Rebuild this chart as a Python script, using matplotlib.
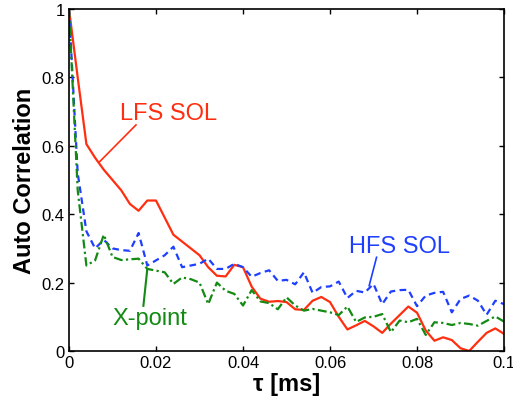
import numpy as np
import matplotlib
matplotlib.use('Agg')
import matplotlib.pyplot as plt

plt.rcParams['font.family'] = ['Liberation Sans', 'DejaVu Sans']

# lag axis, 0.002 ms steps
tau = np.arange(51) * 0.002

lfs = [1.0, 0.80, 0.605, 0.565, 0.53, 0.50, 0.47, 0.43, 0.41, 0.44,
       0.44, 0.39, 0.34, 0.32, 0.30, 0.28, 0.245, 0.22, 0.218, 0.252,
       0.245, 0.188, 0.153, 0.144, 0.146, 0.143, 0.122, 0.12, 0.147, 0.158,
       0.143, 0.10, 0.063, 0.075, 0.088, 0.072, 0.053, 0.08, 0.105, 0.13,
       0.112, 0.06, 0.03, 0.04, 0.032, 0.008, 0.0, 0.027, 0.053, 0.066,
       0.05]

hfs = [1.0, 0.52, 0.35, 0.30, 0.325, 0.30, 0.295, 0.293, 0.345, 0.25,
       0.265, 0.28, 0.305, 0.245, 0.25, 0.255, 0.27, 0.24, 0.24, 0.255,
       0.245, 0.217, 0.228, 0.236, 0.205, 0.208, 0.195, 0.23, 0.17, 0.187,
       0.189, 0.203, 0.155, 0.176, 0.171, 0.196, 0.137, 0.174, 0.178, 0.179,
       0.131, 0.162, 0.17, 0.173, 0.113, 0.152, 0.162, 0.147, 0.106, 0.147,
       0.137]

xpt = [1.0, 0.47, 0.25, 0.265, 0.34, 0.275, 0.266, 0.268, 0.27, 0.24,
       0.235, 0.23, 0.196, 0.215, 0.21, 0.20, 0.137, 0.20, 0.176, 0.167,
       0.133, 0.178, 0.145, 0.14, 0.122, 0.157, 0.133, 0.118, 0.123, 0.118,
       0.113, 0.105, 0.13, 0.085, 0.098, 0.10, 0.108, 0.055, 0.089, 0.084,
       0.094, 0.047, 0.084, 0.082, 0.076, 0.082, 0.079, 0.074, 0.088, 0.101,
       0.086]

c_red = '#ff2e10'
c_blue = '#1f3fff'
c_green = '#138a13'

fig = plt.figure(figsize=(5.13, 4.02), dpi=100)
ax = fig.add_axes([0.1345, 0.1244, 0.848, 0.8507])

ax.plot(tau, lfs, color=c_red, lw=1.6, ls='-')
ax.plot(tau, hfs, color=c_blue, lw=1.6, ls=(0, (3, 2)))
ax.plot(tau, xpt, color=c_green, lw=1.6, ls=(0, (4, 1.5, 1, 1.5)))

ax.set_xlim(0, 0.1)
ax.set_ylim(0, 1)
ax.set_xticks([0, 0.02, 0.04, 0.06, 0.08, 0.1])
ax.set_xticklabels(['0', '0.02', '0.04', '0.06', '0.08', '0.1'])
ax.set_yticks([0, 0.2, 0.4, 0.6, 0.8, 1])
ax.set_yticklabels(['0', '0.2', '0.4', '0.6', '0.8', '1'])
ax.tick_params(direction='in', length=3.5, width=1, top=True, right=True,
               labelsize=12, pad=3)
for s in ax.spines.values():
    s.set_linewidth(1.2)

ax.set_xlabel('τ [ms]', fontsize=17, fontweight='bold', labelpad=1)
ax.set_ylabel('Auto Correlation', fontsize=17, fontweight='bold', labelpad=4)

# annotations
ax.text(0.0117, 0.678, 'LFS SOL', color=c_red, fontsize=17, ha='left', va='baseline')
ax.plot([0.0154, 0.0070], [0.661, 0.553], color=c_red, lw=1.2)

ax.text(0.0644, 0.29, 'HFS SOL', color=c_blue, fontsize=17, ha='left', va='baseline')
ax.plot([0.0707, 0.0690], [0.274, 0.191], color=c_blue, lw=1.2)

ax.text(0.0186, 0.079, 'X-point', color=c_green, fontsize=17, ha='center', va='baseline')
ax.plot([0.0171, 0.0180], [0.132, 0.240], color=c_green, lw=1.5)

fig.savefig('out.png', dpi=100)
